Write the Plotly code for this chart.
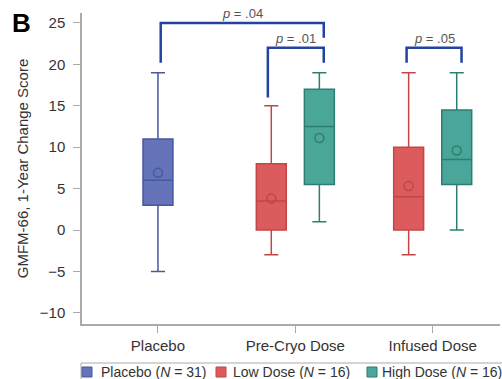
import plotly.graph_objects as go

# ---- data ----
categories = ["Placebo", "Pre-Cryo Dose", "Infused Dose"]
groups = ["Placebo", "Low Dose", "High Dose"]
legend_names = ["Placebo (<i>N</i> = 31)", "Low Dose (<i>N</i> = 16)", "High Dose (<i>N</i> = 16)"]

# per group: category indices where they appear
group_cats = [[0], [1, 2], [1, 2]]
group_offsets = [0.0, -0.175, 0.175]

lower = [[-5], [-3, -3], [1, 0]]
q1 = [[3], [0, 0], [5.5, 5.5]]
median = [[6], [3.5, 4], [12.5, 8.5]]
q3 = [[11], [8, 10], [17, 14.5]]
upper = [[19], [15, 19], [19, 19]]
mean = [[6.9], [3.8, 5.3], [11.1, 9.6]]

fill_colors = ["#6573b9", "#dc5b5c", "#4ba69a"]
line_colors = ["#4757a3", "#c44548", "#2c7d72"]

# significance brackets: x-left, x-right, y-top, y-left-end, y-right-end, label
br_xl = [0.02, 0.80, 1.81]
br_xr = [1.207, 1.207, 2.21]
br_top = [25, 22, 22]
br_yl = [20.2, 16, 20.2]
br_yr = [23.2, 20.2, 20.2]
br_lbl = [".04", ".01", ".05"]

font_family = "Liberation Sans, Arial, sans-serif"

# layout geometry (pixels) used for the hand-placed legend
W, H = 502, 379
ML, MR, MT, MB = 82, 2, 13, 55
PW, PH = W - ML - MR, H - MT - MB


def px_x(p):
    return (p - ML) / PW


def px_y(p):
    return (H - MB - p) / PH


fig = go.Figure()
for g in range(3):
    xs = [c + group_offsets[g] for c in group_cats[g]]
    fig.add_trace(go.Box(
        x=xs, q1=q1[g], median=median[g], q3=q3[g],
        lowerfence=lower[g], upperfence=upper[g],
        name=groups[g], legendgroup=groups[g],
        fillcolor=fill_colors[g], line=dict(color=line_colors[g], width=1.5),
        width=0.218, whiskerwidth=0.47, boxpoints=False, showlegend=False,
    ))
    fig.add_trace(go.Scatter(
        x=xs, y=mean[g], mode="markers", legendgroup=groups[g], showlegend=False,
        marker=dict(symbol="circle-open", size=9, color=line_colors[g], line=dict(width=1.5)),
        hoverinfo="skip",
    ))

for i in range(len(br_xl)):
    fig.add_shape(type="path",
                  path=f"M {br_xl[i]},{br_yl[i]} L {br_xl[i]},{br_top[i]} L {br_xr[i]},{br_top[i]} L {br_xr[i]},{br_yr[i]}",
                  xref="x", yref="y", line=dict(color="#2343a3", width=2.5))
    fig.add_annotation(x=(br_xl[i] + br_xr[i]) / 2, y=br_top[i], xref="x", yref="y",
                       text=f"<i>p</i> = {br_lbl[i]}", showarrow=False, yanchor="bottom",
                       yshift=0, font=dict(size=13, color="#555", family=font_family))

# panel label
fig.add_annotation(x=px_x(10), y=px_y(6), xref="paper", yref="paper", text="<b>B</b>",
                   showarrow=False, xanchor="left", yanchor="top",
                   font=dict(size=26, color="#000", family=font_family))

# legend (hand placed to match reference spacing)
fig.add_shape(type="rect", xref="paper", yref="paper",
              x0=px_x(81), x1=px_x(504), y0=px_y(363), y1=px_y(386),
              line=dict(color="#aaa", width=1), fillcolor="rgba(0,0,0,0)")
sq_left = [82, 216, 367]
txt_left = [99, 231, 380]
for g in range(3):
    fig.add_shape(type="rect", xref="paper", yref="paper",
                  x0=px_x(sq_left[g]), x1=px_x(sq_left[g] + 10),
                  y0=px_y(367), y1=px_y(377),
                  fillcolor=fill_colors[g], line=dict(color=line_colors[g], width=1))
    fig.add_annotation(x=px_x(txt_left[g]), y=px_y(372), xref="paper", yref="paper",
                       text=legend_names[g], showarrow=False, xanchor="left", yanchor="middle",
                       font=dict(size=14, color="#333", family=font_family))

fig.update_layout(
    width=W, height=H,
    margin=dict(l=ML, r=MR, t=MT, b=MB),
    plot_bgcolor="white", paper_bgcolor="white",
    font=dict(family=font_family, color="#333"),
    showlegend=False,
    xaxis=dict(range=[-0.553, 2.49], tickvals=[0, 1, 2], ticktext=categories,
               showline=True, linecolor="#aaa", linewidth=1.5, ticks="outside",
               ticklen=7, tickcolor="#aaa", showgrid=False, zeroline=False,
               ticklabelstandoff=0,
               tickfont=dict(size=15, color="#333")),
    yaxis=dict(range=[-11.35, 26.2], tickvals=[-10, -5, 0, 5, 10, 15, 20, 25],
               ticktext=["\u221210", "\u22125", "0", "5", "10", "15", "20", "25"],
               showline=True, linecolor="#aaa", linewidth=1.5, ticks="outside",
               ticklen=7, tickcolor="#aaa", showgrid=False, zeroline=False,
               ticklabelstandoff=5,
               tickfont=dict(size=15, color="#333"),
               title=dict(text="GMFM-66, 1-Year Change Score", font=dict(size=15, color="#333"),
                          standoff=8)),
)

fig.write_html("out.html")
